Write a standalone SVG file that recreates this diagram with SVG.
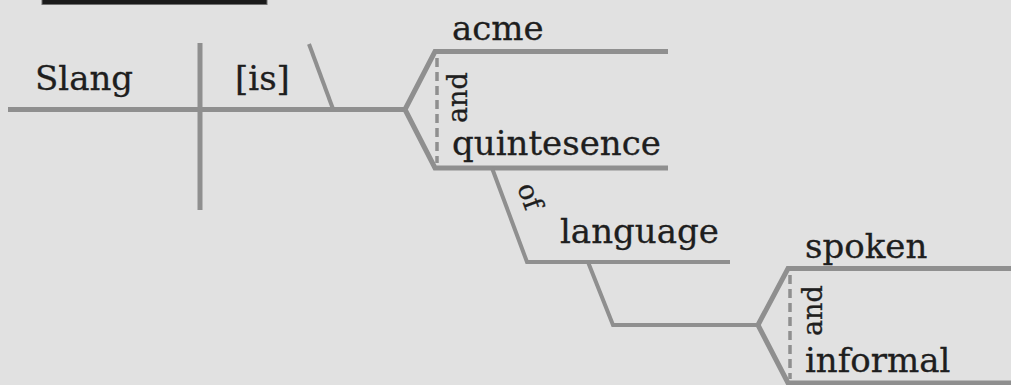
<svg xmlns="http://www.w3.org/2000/svg" width="1011" height="385" viewBox="0 0 1011 385">
  <defs>
    <style>
      .word { font-family: "DejaVu Serif", "Liberation Serif", serif; font-size: 34px; fill: #1e1e1e; stroke: #1e1e1e; stroke-width: 0.3; }
      .conj { font-family: "DejaVu Serif", "Liberation Serif", serif; font-size: 27px; fill: #1e1e1e; stroke: #1e1e1e; stroke-width: 0.3; }
      .line { fill: none; stroke: #8f8f8f; stroke-width: 5; stroke-linejoin: miter; }
      .thin { fill: none; stroke: #8f8f8f; stroke-width: 4; stroke-linejoin: miter; }
      .dash { fill: none; stroke: #8f8f8f; stroke-width: 3.5; stroke-dasharray: 9 5; }
    </style>
  </defs>

  <!-- background -->
  <rect x="0" y="0" width="1011" height="385" fill="#e1e1e1"/>
  <!-- title bar remnant at the top edge -->
  <rect x="42" y="-2" width="225" height="6.5" fill="#1b1b1b" stroke="#707070" stroke-width="1"/>

  <g id="connectors">
    <!-- baseline: subject | verb \ complement -->
    <path class="line" d="M8 109.5 H405"/>
    <path class="line" d="M200 43 V210"/>
    <path class="thin" d="M309 44 L333 109"/>
    <!-- compound complement fork -->
    <path class="line" d="M405 109.5 L435 51.5 H668"/>
    <path class="line" d="M405 109.5 L435 168 H668"/>
    <path class="dash" d="M437 58 V163"/>
    <!-- prepositional phrase "of language" -->
    <path class="thin" d="M492 168 L527 262 H730"/>
    <!-- participle modifiers -->
    <path class="thin" d="M588 262 L613 325 H758"/>
    <path class="line" d="M758 325 L788 268.5 H1011"/>
    <path class="line" d="M758 325 L788 383 H1011"/>
    <path class="dash" d="M790 275 V379"/>
  </g>

  <g id="subject"><text class="word" x="35" y="90">Slang</text></g>
  <g id="verb"><text class="word" x="235" y="90">[is]</text></g>
  <g id="acme"><text class="word" x="452" y="40">acme</text></g>
  <g id="and1"><text class="conj" transform="translate(467 123) rotate(-90)">and</text></g>
  <g id="quintesence"><text class="word" x="452" y="155">quintesence</text></g>
  <g id="of"><text class="conj" transform="translate(517 187) rotate(70)">of</text></g>
  <g id="language"><text class="word" x="560" y="243">language</text></g>
  <g id="spoken"><text class="word" x="805" y="258">spoken</text></g>
  <g id="and2"><text class="conj" transform="translate(822 336) rotate(-90)">and</text></g>
  <g id="informal"><text class="word" x="805" y="372">informal</text></g>
</svg>
